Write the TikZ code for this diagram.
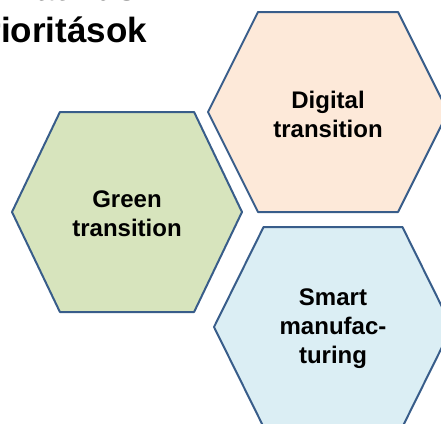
\documentclass[tikz,border=0pt]{standalone}
\usepackage{fontspec}
\setmainfont{Liberation Sans}
\definecolor{hexline}{RGB}{56,93,138}
\definecolor{greenfill}{RGB}{215,228,189}
\definecolor{digitalfill}{RGB}{253,233,217}
\definecolor{smartfill}{RGB}{219,238,244}
\begin{document}
\begin{tikzpicture}[x=1pt, y=-1pt,
    hexa/.style={draw=hexline, line width=2pt, line join=round},
    hexlabel/.style={font=\bfseries\fontsize{24}{29}\selectfont, align=center, inner sep=0pt}]
    \useasboundingbox (0,0) rectangle (441,423);
    \clip (0,0) rectangle (441,423);
    \node[font=\bfseries\fontsize{35}{42}\selectfont, align=left, anchor=base west, inner sep=0pt] (title) at (-34,42) {Tematikus\\prioritások};
    \foreach \name/\cx/\cy/\w/\col/\txt in {green/127/212/115/greenfill/{Green\\transition},
                                            digital/328/112/120/digitalfill/{Digital\\transition},
                                            smart/333/327/119/smartfill/{Smart\\manufac-\\turing}}
    {
        \draw[hexa, fill=\col] ({\cx-\w},\cy) -- ({\cx-\w*7/12},{\cy-100}) -- ({\cx+\w*7/12},{\cy-100})
            -- ({\cx+\w},\cy) -- ({\cx+\w*7/12},{\cy+100}) -- ({\cx-\w*7/12},{\cy+100}) -- cycle;
        \node[hexlabel] (\name) at (\cx,{\cy+2}) {\txt};
    }
\end{tikzpicture}
\end{document}
